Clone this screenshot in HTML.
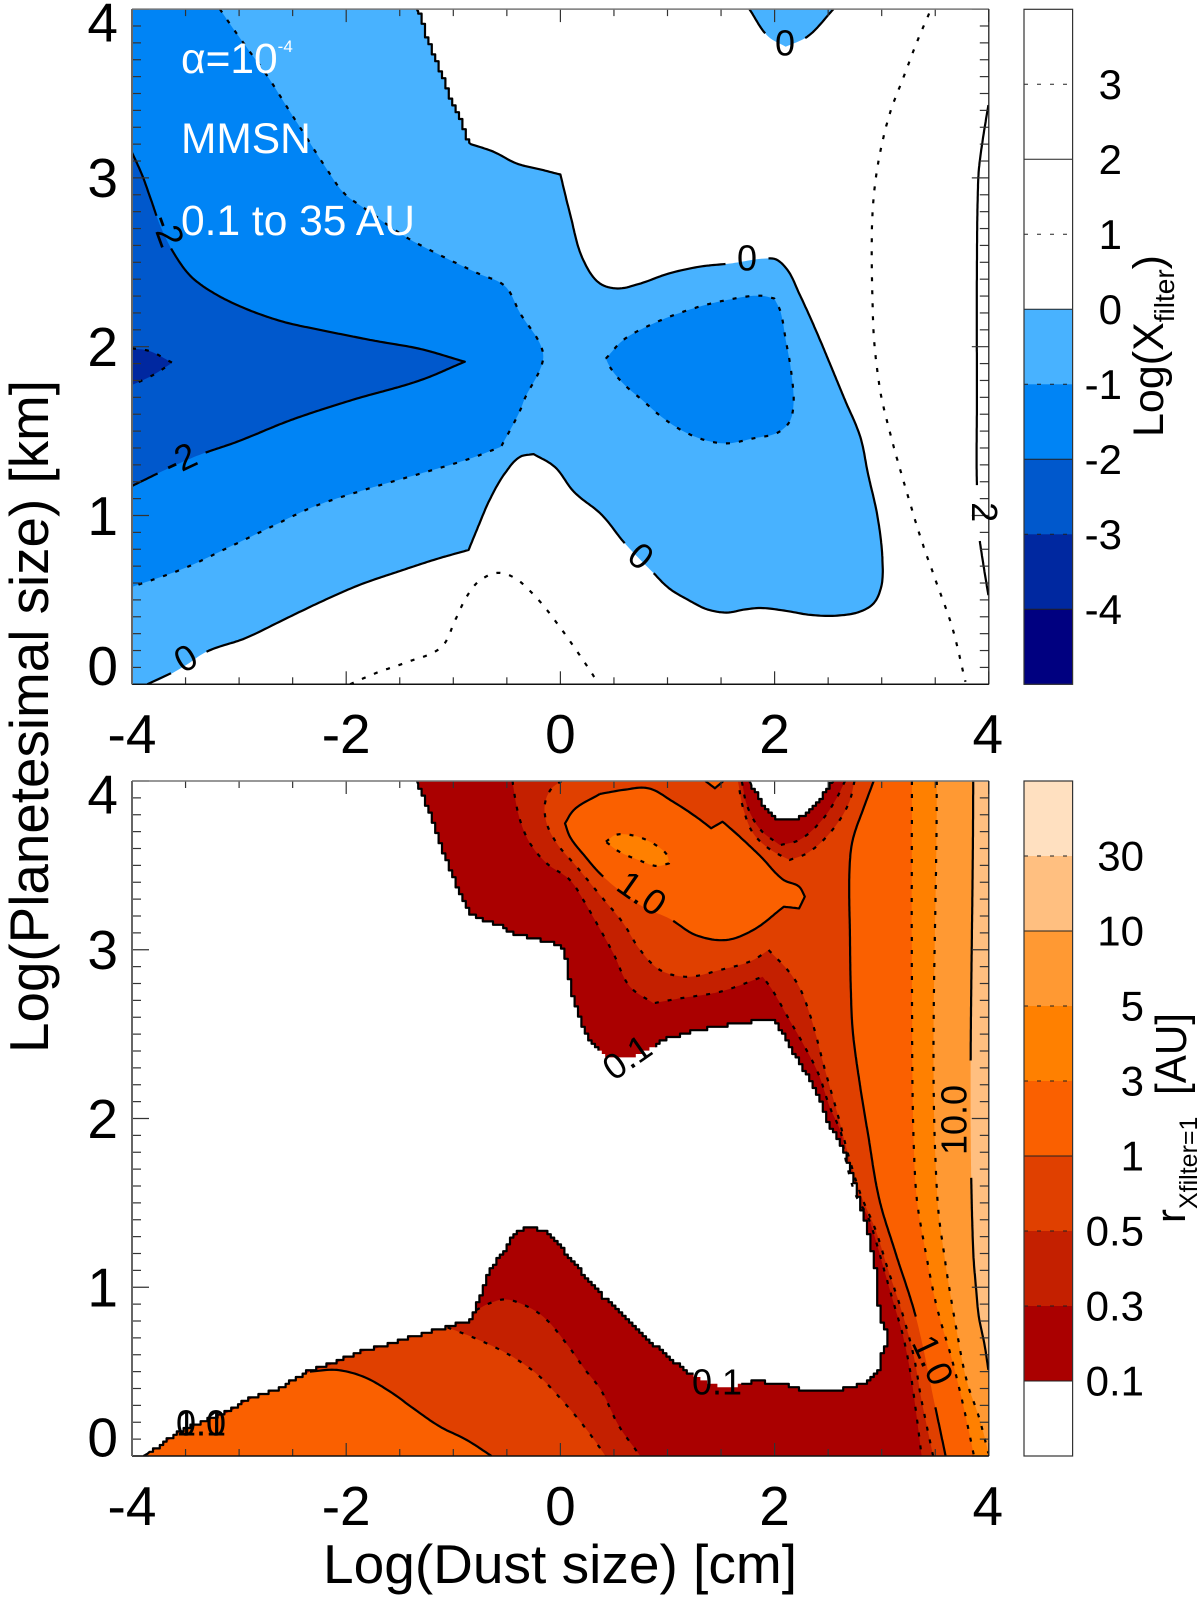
<!DOCTYPE html>
<html lang="en">
<head>
<meta charset="utf-8">
<title>Filter efficiency contour charts</title>
<style>
html,body{margin:0;padding:0;background:#fff;}
svg{display:block;font-family:"Liberation Sans",Arial,sans-serif;}
</style>
</head>
<body>
<svg id="chart" xmlns="http://www.w3.org/2000/svg" width="1200" height="1597" viewBox="0 0 1200 1597">
  <defs id="chart-defs">
    <clipPath id="clip-top"><rect x="132" y="9" width="856.8" height="675.3"/></clipPath>
    <clipPath id="clip-bot"><rect x="132" y="781" width="856.8" height="675"/></clipPath>
  </defs>
  <rect x="0" y="0" width="1200" height="1597" fill="#fff"/>
  <g id="top-plot" clip-path="url(#clip-top)"></g>
  <g id="bot-plot" clip-path="url(#clip-bot)"></g>
  <g id="axes"></g>
  <g id="colorbars"></g>
  <g id="labels"></g>
  <g fill="#fff" font-size="42.5">
    <text x="181" y="73">α=10<tspan font-size="17" dy="-21">-4</tspan></text>
    <text x="181" y="153">MMSN</text>
    <text x="181" y="235">0.1 to 35 AU</text>
  </g>
  <text transform="translate(48,1053) rotate(-90)" font-size="55" textLength="673" lengthAdjust="spacingAndGlyphs">Log(Planetesimal size) [km]</text>
  <text x="323" y="1583" font-size="55" textLength="474" lengthAdjust="spacingAndGlyphs">Log(Dust size) [cm]</text>
  <text transform="translate(1163,437) rotate(-90)" font-size="43">Log(X<tspan font-size="28" dy="11">filter</tspan><tspan dy="-11">)</tspan></text>
  <text transform="translate(1185,1223) rotate(-90)" font-size="42">r</text>
  <text transform="translate(1197,1209) rotate(-90)" font-size="25">Xfilter=1</text>
  <text transform="translate(1186,1095) rotate(-90)" font-size="44" textLength="82" lengthAdjust="spacingAndGlyphs">[AU]</text>
</svg>
<script>
/* ---------- tick values ---------- */
var xTickLabels = ["-4", "-2", "0", "2", "4"];
var yTickLabels = ["0", "1", "2", "3", "4"];

/* ---------- colorbar data ---------- */
var topBarLevels = [4, 3, 2, 1, 0, -1, -2, -3, -4, -5];
var topBarColors = ["#ffffff", "#ffffff", "#ffffff", "#ffffff", "#48b2ff", "#0084f5", "#0058cc", "#0028a0", "#000080"];
var topBarLabels = ["3", "2", "1", "0", "-1", "-2", "-3", "-4"];
var topBarDashed = [true, false, true, false, true, false, true, false];
var botBarLabels = ["30", "10", "5", "3", "1", "0.5", "0.3", "0.1"];
var botBarColors = ["#ffe0c0", "#ffbf80", "#ff9933", "#ff8000", "#fa6000", "#e04000", "#c42000", "#aa0000", "#ffffff"];
var botBarDashed = [true, false, true, true, false, true, true, false];

/* ---------- top panel contours, [log dust size, log planetesimal size] ---------- */
var zeroMain = [[-1.34,4],[-1.286,3.915],[-1.232,3.797],[-1.125,3.639],[-1.018,3.461],[-0.911,3.303],[-0.857,3.204],[-0.625,3.155],[-0.411,3.086],[-0.161,3.046],[0,3.02],[0.089,2.79],[0.214,2.513],[0.368,2.375],[0.532,2.345],[0.729,2.371],[1.014,2.434],[1.3,2.474],[1.586,2.493],[1.943,2.523],[2.014,2.517],[2.121,2.454],[2.229,2.316],[2.371,2.118],[2.657,1.684],[2.8,1.466],[2.871,1.25],[2.961,0.993],[3.007,0.737],[2.996,0.579],[2.925,0.48],[2.8,0.431],[2.586,0.407],[2.336,0.411],[2.086,0.437],[1.871,0.452],[1.729,0.444],[1.55,0.425],[1.371,0.444],[1.193,0.5],[1.014,0.569],[0.871,0.658],[0.6,0.836],[0.386,1.004],[0.125,1.141],[-0.054,1.289],[-0.25,1.364],[-0.375,1.348],[-0.518,1.25],[-0.661,1.092],[-0.768,0.934],[-0.857,0.796],[-1.161,0.741],[-1.518,0.667],[-1.875,0.589],[-2.232,0.49],[-2.589,0.381],[-2.946,0.272],[-3.304,0.193],[-3.518,0.105],[-3.857,0]];
var zeroBlob = [[1.764,4],[1.943,3.836],[2.104,3.777],[2.304,3.836],[2.55,4]];
var minusOneBand = [[-3.179,4],[-3.089,3.915],[-2.911,3.757],[-2.732,3.6],[-2.554,3.421],[-2.375,3.244],[-2.196,3.066],[-2.018,2.908],[-1.804,2.809],[-1.446,2.651],[-1.125,2.543],[-0.768,2.434],[-0.518,2.359],[-0.375,2.197],[-0.179,2],[-0.161,1.93],[-0.339,1.684],[-0.375,1.624],[-0.554,1.407],[-0.839,1.338],[-1.304,1.249],[-1.839,1.15],[-2.304,1.052],[-2.732,0.923],[-3.089,0.814],[-3.518,0.686],[-4,0.577]];
var minusOneIsland = [[0.425,1.93],[0.586,2.039],[0.836,2.128],[1.193,2.217],[1.55,2.276],[1.871,2.302],[1.996,2.286],[2.05,2.217],[2.104,2.039],[2.157,1.842],[2.175,1.644],[2.139,1.555],[2.032,1.492],[1.8,1.457],[1.55,1.427],[1.371,1.443],[1.157,1.496],[0.943,1.585],[0.764,1.684],[0.586,1.782],[0.461,1.881],[0.425,1.93]];
var minusTwoWedge = [[-4,3.15],[-3.911,3.026],[-3.821,2.868],[-3.732,2.71],[-3.589,2.533],[-3.446,2.414],[-3.232,2.316],[-2.946,2.227],[-2.589,2.148],[-2.232,2.098],[-1.732,2.035],[-1.304,1.986],[-0.893,1.911],[-1.304,1.802],[-1.946,1.684],[-2.518,1.565],[-3.018,1.437],[-3.375,1.358],[-3.661,1.279],[-4,1.175]];
var minusThreeTip = [[-4,1.99],[-3.84,1.975],[-3.625,1.905],[-3.804,1.832],[-4,1.773]];
var plusOneLower = [[-1.964,0],[-1.714,0.069],[-1.446,0.128],[-1.107,0.223],[-0.982,0.381],[-0.875,0.519],[-0.768,0.607],[-0.589,0.66],[-0.446,0.637],[-0.232,0.519],[-0.054,0.381],[0.125,0.223],[0.304,0.055],[0.357,0]];
var plusOneRight = [[3.443,3.974],[3.336,3.816],[3.193,3.579],[3.086,3.402],[2.996,3.184],[2.943,2.987],[2.914,2.789],[2.907,2.513],[2.914,2.276],[2.929,2.039],[2.996,1.703],[3.032,1.605],[3.121,1.387],[3.229,1.15],[3.371,0.854],[3.514,0.598],[3.657,0.341],[3.782,0.015]];
var plusTwoRight = [[3.996,3.431],[3.943,3.224],[3.907,3.046],[3.896,2.869],[3.889,2.474],[3.889,1.684],[3.889,1.18],[3.914,0.863],[3.943,0.735],[3.996,0.528]];

/* top panel contour labels */
var topLabelText = ["0", "0", "0", "0", "-2", "-2", "2"];
var topLabelX = [2.097, 1.742, 0.753, -3.5, -3.552, -3.664, 3.961];
var topLabelY = [3.799, 2.525, 0.76, 0.155, 1.334, 2.69, 1.02];
var topLabelAngle = [0, 0, 40, -30, -25, 70, 90];
var topLabelGap = [20, 20, 20, 20, 25, 18, 27];

/* ---------- bottom panel contours ---------- */
var outerUpper = [[-1.339,4],[-1.286,3.907],[-1.196,3.769],[-1.125,3.631],[-1.036,3.492],[-0.964,3.374],[-0.893,3.275],[-0.839,3.206],[-0.625,3.157],[-0.446,3.101],[-0.232,3.062],[-0.089,3.048],[0.036,3.008],[0.089,2.821],[0.143,2.663],[0.232,2.505],[0.357,2.396],[0.463,2.364],[0.65,2.36],[0.81,2.41],[0.94,2.46],[1.157,2.503],[1.443,2.543],[1.729,2.569],[1.979,2.586],[2.05,2.533],[2.157,2.414],[2.264,2.295],[2.407,2.137],[2.514,1.96],[2.657,1.782],[2.764,1.585],[2.8,1.478],[2.871,1.32],[2.925,1.162],[2.961,1.004],[2.996,0.807],[3.032,0.767],[3.032,0.628],[2.996,0.6],[2.979,0.51],[2.871,0.441],[2.693,0.402],[2.193,0.402],[2.121,0.421],[1.979,0.435],[1.8,0.439],[1.693,0.421],[1.443,0.421],[1.229,0.49],[0.979,0.609],[0.729,0.747],[0.55,0.865],[0.371,0.964],[0.196,1.092],[0.089,1.181],[-0.089,1.31],[-0.25,1.36],[-0.411,1.33],[-0.518,1.22],[-0.661,1.083],[-0.768,0.905],[-0.821,0.806]];
var outerLowerLeft = [[-0.821,0.806],[-1.089,0.757],[-1.375,0.707],[-1.661,0.648],[-1.946,0.599],[-2.089,0.553],[-2.339,0.5],[-2.661,0.391],[-2.911,0.332],[-3.089,0.263],[-3.518,0.154],[-3.768,0.045],[-3.893,0]];
var outerNotch = [[2.55,4],[2.425,3.887],[2.3,3.808],[2.193,3.773],[2.05,3.769],[1.943,3.828],[1.836,3.927],[1.764,4]];
var pointThreeMain = [[-0.446,4],[-0.44,3.966],[-0.377,3.769],[-0.284,3.631],[-0.128,3.512],[0.09,3.413],[0.214,3.295],[0.339,3.157],[0.494,2.979],[0.65,2.781],[0.868,2.683],[1.117,2.712],[1.49,2.751],[1.889,2.84],[1.979,2.761],[2.121,2.603],[2.264,2.445],[2.407,2.268],[2.514,2.07],[2.621,1.912],[2.657,1.774],[2.764,1.537],[2.871,1.418],[2.943,1.28],[3.032,1.082],[3.121,0.885],[3.193,0.727],[3.264,0.51],[3.318,0.273],[3.373,0]];
var pointThreeNotch = [[2.657,4],[2.586,3.907],[2.443,3.769],[2.229,3.65],[2.05,3.62],[1.871,3.709],[1.746,3.848],[1.693,4]];
var pointFiveMain = [[0.011,4],[-0.081,3.957],[-0.144,3.868],[-0.128,3.749],[-0.034,3.631],[0.152,3.492],[0.37,3.324],[0.587,3.157],[0.743,3],[0.93,2.88],[1.179,2.84],[1.49,2.88],[1.8,2.939],[1.943,2.999],[2.121,2.88],[2.229,2.781],[2.336,2.603],[2.479,2.268],[2.586,2.031],[2.693,1.774],[2.8,1.556],[2.943,1.339],[3.05,1.122],[3.193,0.845],[3.3,0.589],[3.371,0.333],[3.48,0]];
var pointFiveNotch = [[2.746,4],[2.693,3.868],[2.514,3.69],[2.3,3.571],[2.139,3.532],[1.943,3.601],[1.8,3.69],[1.711,3.828],[1.657,4]];
var oneRight = [[2.925,4],[2.836,3.848],[2.729,3.65],[2.704,3.532],[2.704,3.058],[2.711,2.781],[2.729,2.524],[2.8,2.186],[2.871,1.912],[2.979,1.517],[3.121,1.22],[3.318,0.826],[3.496,0.303],[3.597,0]];
var oneBlob = [[0.368,3.923],[0.125,3.828],[0.043,3.749],[0.089,3.67],[0.232,3.552],[0.368,3.453],[0.586,3.334],[0.8,3.245],[1.014,3.186],[1.264,3.087],[1.55,3.058],[1.8,3.117],[2.086,3.255],[2.229,3.245],[2.282,3.315],[2.229,3.374],[2.086,3.413],[1.871,3.552],[1.657,3.68],[1.514,3.759],[1.407,3.72],[1.264,3.789],[1.05,3.878],[0.821,3.957],[0.586,3.947],[0.368,3.923]];
var oneTopTip = [[1.354,4],[1.443,3.957],[1.521,4]];
var threeBlob = [[0.425,3.64],[0.514,3.68],[0.657,3.68],[0.836,3.64],[0.996,3.561],[1.014,3.512],[0.907,3.496],[0.729,3.532],[0.55,3.581],[0.425,3.64]];
var threeRight = [[3.282,4],[3.282,2.821],[3.3,1.833],[3.329,1.517],[3.407,1.22],[3.514,0.885],[3.657,0.569],[3.764,0.293],[3.862,0]];
var fiveRight = [[3.514,4],[3.521,1.517],[3.586,1.182],[3.693,0.767],[3.8,0.431],[3.907,0.233],[3.996,0.016]];
var tenRight = [[3.854,4],[3.854,1.22],[3.88,1],[3.907,0.826],[3.96,0.66],[3.996,0.51]];
var lobePointThree = [[-0.786,0.865],[-0.661,0.905],[-0.518,0.928],[-0.339,0.895],[-0.161,0.826],[0.054,0.668],[0.232,0.51],[0.368,0.401],[0.55,0.174],[0.746,0]];
var lobePointFive = [[-1.054,0.762],[-0.768,0.69],[-0.482,0.601],[-0.232,0.492],[-0.018,0.354],[0.196,0.196],[0.368,0.049],[0.42,0]];
var lobeOne = [[-2.339,0.5],[-2.089,0.51],[-1.839,0.47],[-1.589,0.381],[-1.375,0.283],[-1.125,0.174],[-0.875,0.095],[-0.643,0]];

/* bottom panel contour labels */
var botLabelText = ["0.1", "1.0", "10.0", "0.1", "1.0", "0.1", "1.0"];
var botLabelX = [1.462, 3.479, 3.675, 0.622, 0.762, -3.356, -3.356];
var botLabelY = [0.439, 0.569, 1.991, 2.364, 3.336, 0.196, 0.196];
var botLabelAngle = [0, 65, -90, -35, 35, 0, 0];
var botLabelGap = [24, 45, 60, 28, 41, 22, 22];

/* ---------- axis functions ---------- */
var NS = "http://www.w3.org/2000/svg";
function xScale(v) { return 132 + (v + 4) * 107.1; }
function yTop(v) { return 684.3 - v * 168.8; }
function yBot(v) { return 1456 - v * 168.75; }
function barTopY(v) { return 309.3 - v * 75; }
function barBotY(i) { return 856 + i * 75; }
var DASH = "4 9";
var STAIR_STEP = 3.4;

function mk(tag, attrs, parent) {
  var el = document.createElementNS(NS, tag);
  for (var k in attrs) { el.setAttribute(k, attrs[k]); }
  parent.appendChild(el);
  return el;
}

/* smooth pixel polyline through the data points; vertices with a sharp turn stay corners */
function sample(pts, yFn) {
  var P = pts.map(function (p) { return [xScale(p[0]), yFn(p[1])]; });
  var n = P.length, dirIn = [], dirOut = [], i;
  function unit(a) { var l = Math.hypot(a[0], a[1]) || 1; return [a[0] / l, a[1] / l]; }
  for (i = 0; i < n; i++) {
    var a = i > 0 ? unit([P[i][0] - P[i - 1][0], P[i][1] - P[i - 1][1]]) : null;
    var b = i < n - 1 ? unit([P[i + 1][0] - P[i][0], P[i + 1][1] - P[i][1]]) : null;
    if (a && b && a[0] * b[0] + a[1] * b[1] > 0.77) {
      var m = unit([a[0] + b[0], a[1] + b[1]]);
      dirIn[i] = m; dirOut[i] = m;
    } else {
      dirIn[i] = a || b; dirOut[i] = b || a;
    }
  }
  var out = [P[0]];
  for (i = 0; i < n - 1; i++) {
    var len = Math.hypot(P[i + 1][0] - P[i][0], P[i + 1][1] - P[i][1]);
    if (len < 0.01) { continue; }
    var c1 = [P[i][0] + dirOut[i][0] * len / 3, P[i][1] + dirOut[i][1] * len / 3];
    var c2 = [P[i + 1][0] - dirIn[i + 1][0] * len / 3, P[i + 1][1] - dirIn[i + 1][1] * len / 3];
    var N = Math.max(1, Math.ceil(len / 2.5));
    for (var s = 1; s <= N; s++) {
      var t = s / N, u = 1 - t;
      out.push([
        u * u * u * P[i][0] + 3 * u * u * t * c1[0] + 3 * u * t * t * c2[0] + t * t * t * P[i + 1][0],
        u * u * u * P[i][1] + 3 * u * u * t * c1[1] + 3 * u * t * t * c2[1] + t * t * t * P[i + 1][1]
      ]);
    }
  }
  return out;
}
/* the reference's gridded edges: snap a sampled line to a fine pixel grid above a given y */
function stair(px, yFn, limit) {
  var L = xScale(-4), R = xScale(4), T = yFn(4), B = yFn(0), out = [];
  px.forEach(function (p) {
    var nearFrame = p[0] < L + 3 || p[0] > R - 3 || p[1] < T + 3 || p[1] > B - 3;
    if (nearFrame || p[1] > limit) { out.push(p); return; }
    var q = [Math.round(p[0] / STAIR_STEP) * STAIR_STEP, Math.round(p[1] / STAIR_STEP) * STAIR_STEP];
    var last = out[out.length - 1];
    if (last && last[0] !== q[0] && last[1] !== q[1]) { out.push([q[0], last[1]]); }
    out.push(q);
  });
  return out;
}
function toPath(px, closed) {
  var d = "";
  for (var i = 0; i < px.length; i++) {
    d += (i ? "L" : "M") + px[i][0].toFixed(1) + " " + px[i][1].toFixed(1);
  }
  return d + (closed ? "Z" : "");
}
function fillPath(pts, yFn, limit) {
  var px = sample(pts, yFn);
  if (limit) { px = stair(px, yFn, limit); }
  return toPath(px, true);
}
/* stroke path that breaks where the line passes under its own contour label */
function linePath(pts, yFn, labelIdx, lx, ly, gap, limit) {
  var px = sample(pts, yFn);
  if (limit) { px = stair(px, yFn, limit); }
  if (!labelIdx.length) { return toPath(px, false); }
  var d = "", pen = false;
  px.forEach(function (p) {
    var hidden = labelIdx.some(function (q) {
      return Math.hypot(p[0] - xScale(lx[q]), p[1] - yFn(ly[q])) < gap[q];
    });
    if (hidden) { pen = false; return; }
    d += (pen ? "L" : "M") + p[0].toFixed(1) + " " + p[1].toFixed(1);
    pen = true;
  });
  return d;
}

/* ---------- top panel ---------- */
var topPlot = document.getElementById("top-plot");
var botPlot = document.getElementById("bot-plot");
var TOP_STAIR_LIMIT = yTop(3.2);

var topFills = [
  { color: topBarColors[4], pts: zeroMain.concat([[-4,0],[-4,4]]), limit: TOP_STAIR_LIMIT },
  { color: topBarColors[4], pts: zeroBlob },
  { color: topBarColors[5], pts: minusOneBand.concat([[-4,4]]) },
  { color: topBarColors[5], pts: minusOneIsland },
  { color: topBarColors[6], pts: minusTwoWedge },
  { color: topBarColors[7], pts: minusThreeTip }
];
var topLines = [
  { pts: zeroMain, dashed: false, cuts: [1, 2, 3], limit: TOP_STAIR_LIMIT },
  { pts: zeroBlob, dashed: false, cuts: [0] },
  { pts: minusOneBand, dashed: true, cuts: [] },
  { pts: minusOneIsland, dashed: true, cuts: [] },
  { pts: minusTwoWedge, dashed: false, cuts: [4, 5] },
  { pts: minusThreeTip, dashed: true, cuts: [] },
  { pts: plusOneLower, dashed: true, cuts: [] },
  { pts: plusOneRight, dashed: true, cuts: [] },
  { pts: plusTwoRight, dashed: false, cuts: [6] }
];
topFills.forEach(function (f) {
  var el = mk("path", { d: fillPath(f.pts, yTop, f.limit), fill: f.color }, topPlot);
  
  
});
topLines.forEach(function (l) {
  var attrs = { d: linePath(l.pts, yTop, l.cuts, topLabelX, topLabelY, topLabelGap, l.limit), fill: "none", stroke: "#000", "stroke-width": 2.2, "stroke-linejoin": "round" };
  if (l.dashed) { attrs["stroke-dasharray"] = DASH; }
  var el = mk("path", attrs, topPlot);
  
  
});

/* ---------- bottom panel ---------- */
var outerAll = outerUpper.concat(outerLowerLeft.slice(1));
var edgeReversed = outerLowerLeft.slice().reverse();
function edgeTo(limit) { return edgeReversed.filter(function (p) { return p[0] <= limit; }); }
var rightCorners = [[4,0],[4,4]];
var BOT_STAIR_LIMIT = 9999;

var outerFillPath = fillPath(outerAll.concat(rightCorners).concat(outerNotch), yBot, BOT_STAIR_LIMIT);
var outerClip = mk("clipPath", { id: "clip-outer" }, document.getElementById("chart-defs"));
mk("path", { d: outerFillPath }, outerClip);

var outerBand = mk("path", { d: outerFillPath, fill: botBarColors[7] }, botPlot);



var innerBands = mk("g", { "clip-path": "url(#clip-outer)" }, botPlot);



var botFills = [
  { color: botBarColors[6], pts: pointThreeMain.concat(rightCorners).concat(pointThreeNotch) },
  { color: botBarColors[5], pts: pointFiveMain.concat(rightCorners).concat(pointFiveNotch) },
  { color: botBarColors[4], pts: oneRight.concat(rightCorners) },
  { color: botBarColors[4], pts: oneBlob },
  { color: botBarColors[4], pts: oneTopTip },
  { color: botBarColors[3], pts: threeRight.concat(rightCorners) },
  { color: botBarColors[3], pts: threeBlob },
  { color: botBarColors[2], pts: fiveRight.concat(rightCorners) },
  { color: botBarColors[1], pts: tenRight.concat([[4,0.51],[4,4]]) },
  { color: botBarColors[6], pts: lobePointThree.concat(edgeTo(-0.8)) },
  { color: botBarColors[5], pts: lobePointFive.concat(edgeTo(-1.06)) },
  { color: botBarColors[4], pts: lobeOne.concat(edgeTo(-2.34)) }
];
var botLines = [
  { pts: outerAll, dashed: false, cuts: [0, 3], limit: BOT_STAIR_LIMIT },
  { pts: outerNotch, dashed: false, cuts: [], limit: BOT_STAIR_LIMIT },
  { pts: pointThreeMain, dashed: true, cuts: [] },
  { pts: pointThreeNotch, dashed: true, cuts: [] },
  { pts: pointFiveMain, dashed: true, cuts: [] },
  { pts: pointFiveNotch, dashed: true, cuts: [] },
  { pts: oneRight, dashed: false, cuts: [1] },
  { pts: oneBlob, dashed: false, cuts: [4] },
  { pts: oneTopTip, dashed: false, cuts: [] },
  { pts: threeBlob, dashed: true, cuts: [] },
  { pts: threeRight, dashed: true, cuts: [] },
  { pts: fiveRight, dashed: true, cuts: [] },
  { pts: tenRight, dashed: false, cuts: [2] },
  { pts: lobePointThree, dashed: true, cuts: [] },
  { pts: lobePointFive, dashed: true, cuts: [] },
  { pts: lobeOne, dashed: false, cuts: [] }
];
botFills.forEach(function (f) {
  var el = mk("path", { d: fillPath(f.pts, yBot), fill: f.color }, innerBands);
  
  
});
botLines.forEach(function (l) {
  var attrs = { d: linePath(l.pts, yBot, l.cuts, botLabelX, botLabelY, botLabelGap, l.limit), fill: "none", stroke: "#000", "stroke-width": 2.2, "stroke-linejoin": "round" };
  if (l.dashed) { attrs["stroke-dasharray"] = DASH; }
  var el = mk("path", attrs, botPlot);
  
  
});

/* ---------- contour labels ---------- */
var labelLayer = document.getElementById("labels");
function drawLabels(text, lx, ly, ang, yFn) {
  for (var i = 0; i < text.length; i++) {
    var el = mk("text", {
      transform: "translate(" + xScale(lx[i]).toFixed(1) + "," + yFn(ly[i]).toFixed(1) + ") rotate(" + ang[i] + ")",
      y: 12.5, "text-anchor": "middle", "font-size": 36, fill: "#000"
    }, labelLayer);
    
    
    el.textContent = text[i];
  }
}
drawLabels(topLabelText, topLabelX, topLabelY, topLabelAngle, yTop);
drawLabels(botLabelText, botLabelX, botLabelY, botLabelAngle, yBot);

/* ---------- axes and ticks ---------- */
var axes = document.getElementById("axes");
function drawAxes(yFn, labelBase, prefix) {
  var g = mk("g", {}, axes);
  
  
  var L = xScale(-4), R = xScale(4), T = yFn(4), B = yFn(0), i, el;
  function tick(x1, y1, x2, y2) {
    var t = mk("line", { x1: x1, y1: y1, x2: x2, y2: y2, stroke: "#333", "stroke-width": 1.2 }, g);
    
    
  }
  for (i = 0; i <= 16; i++) {
    var xv = -4 + i * 0.5, len = (i % 4 === 0) ? 13 : 7;
    tick(xScale(xv), T, xScale(xv), T + len);
    tick(xScale(xv), B, xScale(xv), B - len);
  }
  for (i = 0; i <= 40; i++) {
    var yv = i * 0.1, ylen = (i % 10 === 0) ? 17 : 9;
    tick(L, yFn(yv), L + ylen, yFn(yv));
    tick(R, yFn(yv), R - ylen, yFn(yv));
  }
  var edges = [
    [L, T, R, T, "#777", 1.5, 'top-axis-line'],
    [R, T, R, B, "#222", 1.3, 'right-axis-line'],
    [L, B, R, B, "#111", 1.5, 'bottom-axis-line'],
    [L, T, L, B, "#666", 2, 'left-axis-line']
  ];
  edges.forEach(function (e) {
    var ln = mk("line", { x1: e[0], y1: e[1], x2: e[2], y2: e[3], stroke: e[4], "stroke-width": e[5] }, g);
    
    
  });
  xTickLabels.forEach(function (s) {
    el = mk("text", { x: xScale(+s) - (s === "4" ? 1 : 0), y: labelBase, "text-anchor": "middle", "font-size": 55, fill: "#000" }, g);
    
    
    el.textContent = s;
  });
  yTickLabels.forEach(function (s) {
    var v = +s, off = v === 4 ? 32.5 : (v === 0 ? 0.7 : 19.3);
    el = mk("text", { x: 118, y: yFn(v) + off, "text-anchor": "end", "font-size": 55, fill: "#000" }, g);
    
    
    el.textContent = s;
  });
}
drawAxes(yTop, 753, "top");
drawAxes(yBot, 1525, "bottom");

/* ---------- colorbars ---------- */
var bars = document.getElementById("colorbars");
var BAR_L = 1024, BAR_R = 1072.6;
function drawBar(colors, yOfBand, labels, yOfLabel, dashed, labelX, prefix) {
  var g = mk("g", {}, bars);
  
  
  colors.forEach(function (c, i) {
    var y0 = yOfBand(i), y1 = yOfBand(i + 1);
    var r = mk("rect", { x: BAR_L, y: y0, width: BAR_R - BAR_L, height: y1 - y0 + 0.5, fill: c }, g);
    
    
  });
  labels.forEach(function (s, i) {
    var y = yOfLabel(i);
    var attrs = { x1: BAR_L, y1: y, x2: BAR_R, y2: y, stroke: "#222", "stroke-width": 1 };
    if (dashed[i]) { attrs["stroke-dasharray"] = "4 9"; }
    var ln = mk("line", attrs, g);
    
    
    var t = mk("text", { x: labelX, y: y + 14.6, "text-anchor": "end", "font-size": 42, fill: "#000" }, g);
    
    
    t.textContent = s;
  });
  var top = yOfBand(0), bottom = yOfBand(colors.length);
  var frame = mk("rect", { x: BAR_L, y: top, width: BAR_R - BAR_L, height: bottom - top, fill: "none", stroke: "#333", "stroke-width": 1.2 }, g);
  
  
}
drawBar(topBarColors,
  function (i) { return barTopY(topBarLevels[i]); },
  topBarLabels,
  function (i) { return barTopY(+topBarLabels[i]); },
  topBarDashed, 1122, "top");
drawBar(botBarColors,
  function (i) { return barBotY(i - 1); },
  botBarLabels,
  function (i) { return barBotY(i); },
  botBarDashed, 1144, "bottom");
</script>
</body>
</html>
